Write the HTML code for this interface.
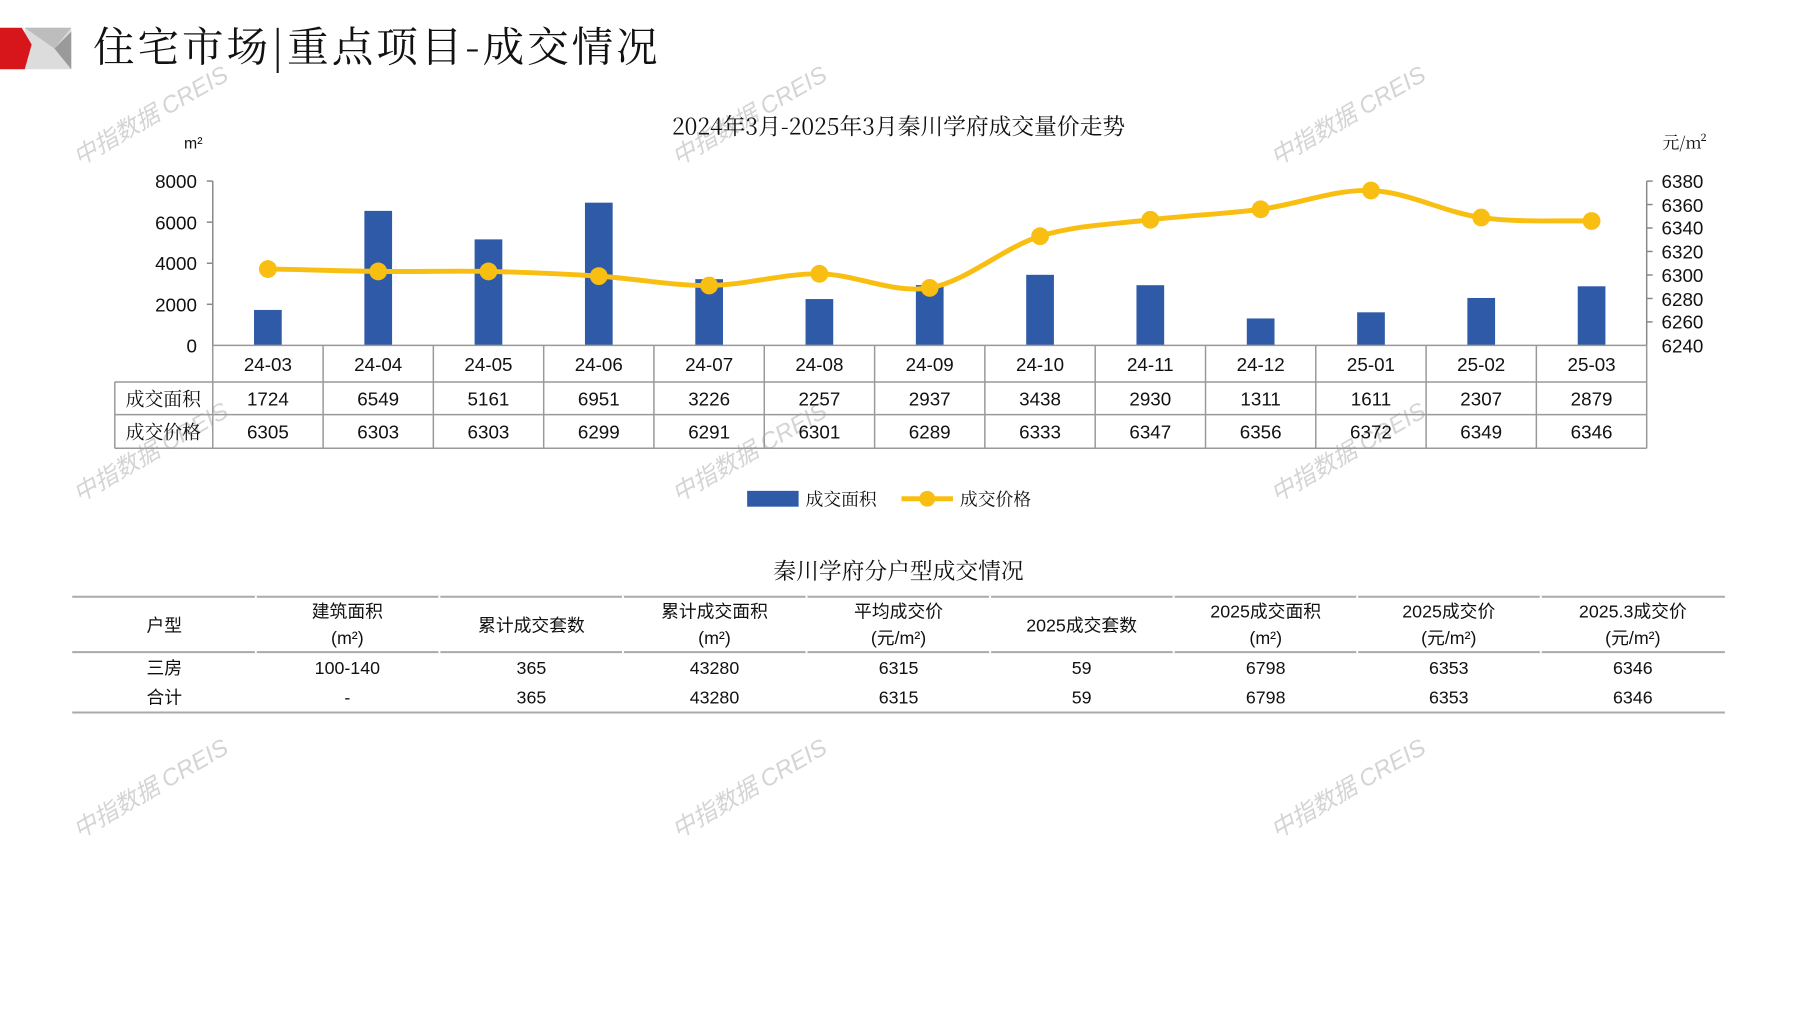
<!DOCTYPE html>
<html><head><meta charset="utf-8"><style>
html,body{margin:0;padding:0;background:#fff;}
svg{display:block;}
text{font-family:"Liberation Sans","Noto Sans CJK SC",sans-serif;fill:#111;}
.cj{font-family:"Noto Serif CJK SC","Liberation Serif",serif;}
.wm{font-family:"Liberation Sans","Noto Sans CJK SC",sans-serif;font-style:italic;fill:#d4d4d4;font-size:24px;}
</style></head><body>
<svg width="1797" height="1010" viewBox="0 0 1797 1010" xmlns="http://www.w3.org/2000/svg">
<g transform="scale(0.9896)">
<!-- logo -->
<polygon points="25,28 72,28 72,70 25,70" fill="#dcdcdc"/>
<polygon points="25,28 72,28 55,49" fill="#bdbdbd"/>
<polygon points="55,49 72,32 72,70" fill="#9a9a9a"/>
<polygon points="0,28 22,28 32,45 25,70 0,70" fill="#d7161c"/>
<text x="94" y="62" class="cj" font-size="42" letter-spacing="3">住宅市场|重点项目-成交情况</text>

<!-- watermarks -->
<g>
<text class="wm" transform="translate(80,168) rotate(-30)">中指数据 CREIS</text>
<text class="wm" transform="translate(685,168) rotate(-30)">中指数据 CREIS</text>
<text class="wm" transform="translate(1290,168) rotate(-30)">中指数据 CREIS</text>
<text class="wm" transform="translate(80,508) rotate(-30)">中指数据 CREIS</text>
<text class="wm" transform="translate(685,508) rotate(-30)">中指数据 CREIS</text>
<text class="wm" transform="translate(1290,508) rotate(-30)">中指数据 CREIS</text>
<text class="wm" transform="translate(80,848) rotate(-30)">中指数据 CREIS</text>
<text class="wm" transform="translate(685,848) rotate(-30)">中指数据 CREIS</text>
<text class="wm" transform="translate(1290,848) rotate(-30)">中指数据 CREIS</text>
</g>

<text x="908" y="136" class="cj" font-size="23" text-anchor="middle">2024年3月-2025年3月秦川学府成交量价走势</text>
<text x="186" y="150" font-size="16">m²</text>
<text x="1680" y="150" class="cj" font-size="17">元/m²</text>

<!-- left axis -->
<g font-size="19" text-anchor="end">
<text x="199" y="190">8000</text><text x="199" y="232">6000</text><text x="199" y="273">4000</text><text x="199" y="315">2000</text><text x="199" y="356">0</text>
</g>
<g stroke="#888" stroke-width="1.5">
<line x1="215" y1="183" x2="215" y2="349"/>
<line x1="209" y1="183" x2="215" y2="183"/><line x1="209" y1="224.5" x2="215" y2="224.5"/><line x1="209" y1="266" x2="215" y2="266"/><line x1="209" y1="307.5" x2="215" y2="307.5"/>
<line x1="1664" y1="183" x2="1664" y2="349"/>
<line x1="1664" y1="183" x2="1670" y2="183"/><line x1="1664" y1="206.7" x2="1670" y2="206.7"/><line x1="1664" y1="230.4" x2="1670" y2="230.4"/><line x1="1664" y1="254.1" x2="1670" y2="254.1"/><line x1="1664" y1="277.9" x2="1670" y2="277.9"/><line x1="1664" y1="301.6" x2="1670" y2="301.6"/><line x1="1664" y1="325.3" x2="1670" y2="325.3"/>
</g>
<g font-size="19">
<text x="1679" y="190">6380</text><text x="1679" y="214">6360</text><text x="1679" y="237">6340</text><text x="1679" y="261">6320</text><text x="1679" y="285">6300</text><text x="1679" y="309">6280</text><text x="1679" y="332">6260</text><text x="1679" y="356">6240</text>
</g>

<!-- bars -->
<g fill="#2e5aa7">
<rect x="256.7" y="313.2" width="28" height="35.8"/>
<rect x="368.2" y="213.1" width="28" height="135.9"/>
<rect x="479.6" y="241.9" width="28" height="107.1"/>
<rect x="591.1" y="204.8" width="28" height="144.2"/>
<rect x="702.6" y="282.1" width="28" height="66.9"/>
<rect x="814.0" y="302.2" width="28" height="46.8"/>
<rect x="925.5" y="288.1" width="28" height="60.9"/>
<rect x="1037.0" y="277.7" width="28" height="71.3"/>
<rect x="1148.4" y="288.2" width="28" height="60.8"/>
<rect x="1259.9" y="321.8" width="28" height="27.2"/>
<rect x="1371.4" y="315.6" width="28" height="33.4"/>
<rect x="1482.8" y="301.1" width="28" height="47.9"/>
<rect x="1594.3" y="289.3" width="28" height="59.7"/>
</g>

<!-- line -->
<path fill="none" stroke="#f8bf12" stroke-width="5" d="M270.7,271.9 C307.9,272.3 345.0,273.9 382.2,274.3 C419.4,274.7 456.4,273.5 493.6,274.3 C530.8,275.1 567.9,276.6 605.1,279.0 C642.3,281.4 679.4,288.9 716.6,288.5 C753.8,288.1 790.8,276.3 828.0,276.7 C865.2,277.1 902.4,297.2 939.5,290.9 C976.7,284.6 1013.8,250.2 1051.0,238.7 C1088.2,227.2 1125.3,226.6 1162.4,222.1 C1199.6,217.6 1236.8,216.4 1273.9,211.5 C1311.1,206.6 1348.2,191.1 1385.4,192.5 C1422.6,193.9 1459.7,214.7 1496.8,219.8 C1534.0,224.9 1571.2,222.7 1608.3,223.3"/>
<g fill="#f8bf12">
<circle cx="270.7" cy="271.9" r="9"/><circle cx="382.2" cy="274.3" r="9"/><circle cx="493.6" cy="274.3" r="9"/><circle cx="605.1" cy="279.0" r="9"/><circle cx="716.6" cy="288.5" r="9"/><circle cx="828.0" cy="276.7" r="9"/><circle cx="939.5" cy="290.9" r="9"/><circle cx="1051.0" cy="238.7" r="9"/><circle cx="1162.4" cy="222.1" r="9"/><circle cx="1273.9" cy="211.5" r="9"/><circle cx="1385.4" cy="192.5" r="9"/><circle cx="1496.8" cy="219.8" r="9"/><circle cx="1608.3" cy="223.3" r="9"/>
</g>

<!-- data table -->
<g stroke="#999" stroke-width="1.5" fill="none">
<line x1="215" y1="349" x2="1664" y2="349"/>
<line x1="116" y1="386" x2="1664" y2="386"/>
<line x1="116" y1="419" x2="1664" y2="419"/>
<line x1="116" y1="453" x2="1664" y2="453"/>
<line x1="116" y1="386" x2="116" y2="453"/>
<line x1="215" y1="349" x2="215" y2="453"/>
<line x1="326.5" y1="349" x2="326.5" y2="453"/><line x1="437.9" y1="349" x2="437.9" y2="453"/><line x1="549.4" y1="349" x2="549.4" y2="453"/><line x1="660.8" y1="349" x2="660.8" y2="453"/><line x1="772.3" y1="349" x2="772.3" y2="453"/><line x1="883.8" y1="349" x2="883.8" y2="453"/><line x1="995.2" y1="349" x2="995.2" y2="453"/><line x1="1106.7" y1="349" x2="1106.7" y2="453"/><line x1="1218.2" y1="349" x2="1218.2" y2="453"/><line x1="1329.6" y1="349" x2="1329.6" y2="453"/><line x1="1441.1" y1="349" x2="1441.1" y2="453"/><line x1="1552.5" y1="349" x2="1552.5" y2="453"/><line x1="1664" y1="349" x2="1664" y2="453"/>
</g>
<g font-size="19" text-anchor="middle">
<text x="270.7" y="375">24-03</text><text x="382.2" y="375">24-04</text><text x="493.6" y="375">24-05</text><text x="605.1" y="375">24-06</text><text x="716.6" y="375">24-07</text><text x="828.0" y="375">24-08</text><text x="939.5" y="375">24-09</text><text x="1051.0" y="375">24-10</text><text x="1162.4" y="375">24-11</text><text x="1273.9" y="375">24-12</text><text x="1385.4" y="375">25-01</text><text x="1496.8" y="375">25-02</text><text x="1608.3" y="375">25-03</text>
<text x="270.7" y="410">1724</text><text x="382.2" y="410">6549</text><text x="493.6" y="410">5161</text><text x="605.1" y="410">6951</text><text x="716.6" y="410">3226</text><text x="828.0" y="410">2257</text><text x="939.5" y="410">2937</text><text x="1051.0" y="410">3438</text><text x="1162.4" y="410">2930</text><text x="1273.9" y="410">1311</text><text x="1385.4" y="410">1611</text><text x="1496.8" y="410">2307</text><text x="1608.3" y="410">2879</text>
<text x="270.7" y="443">6305</text><text x="382.2" y="443">6303</text><text x="493.6" y="443">6303</text><text x="605.1" y="443">6299</text><text x="716.6" y="443">6291</text><text x="828.0" y="443">6301</text><text x="939.5" y="443">6289</text><text x="1051.0" y="443">6333</text><text x="1162.4" y="443">6347</text><text x="1273.9" y="443">6356</text><text x="1385.4" y="443">6372</text><text x="1496.8" y="443">6349</text><text x="1608.3" y="443">6346</text>
</g>
<text x="165" y="410" class="cj" font-size="19" text-anchor="middle">成交面积</text>
<text x="165" y="443" class="cj" font-size="19" text-anchor="middle">成交价格</text>

<!-- legend -->
<rect x="755" y="496" width="52" height="16" fill="#2e5aa7"/>
<text x="814" y="511" class="cj" font-size="18">成交面积</text>
<line x1="911" y1="504" x2="963" y2="504" stroke="#f8bf12" stroke-width="5"/>
<circle cx="937" cy="504" r="8" fill="#f8bf12"/>
<text x="970" y="511" class="cj" font-size="18">成交价格</text>

<!-- second table -->
<text x="908" y="585" class="cj" font-size="23" text-anchor="middle">秦川学府分户型成交情况</text>
<g stroke="#aaa" stroke-width="2">
<line x1="73" y1="603" x2="1743" y2="603"/>
<line x1="73" y1="659" x2="1743" y2="659"/>
<line x1="73" y1="720" x2="1743" y2="720"/>
</g>
<g stroke="#fff" stroke-width="2">
<line x1="258.5" y1="602" x2="258.5" y2="660"/><line x1="444" y1="602" x2="444" y2="660"/><line x1="629.5" y1="602" x2="629.5" y2="660"/><line x1="815" y1="602" x2="815" y2="660"/><line x1="1000.5" y1="602" x2="1000.5" y2="660"/><line x1="1186" y1="602" x2="1186" y2="660"/><line x1="1371.5" y1="602" x2="1371.5" y2="660"/><line x1="1557" y1="602" x2="1557" y2="660"/>
</g>
<g class="cj" font-size="18" text-anchor="middle">
<text x="166" y="638">户型</text>
<text x="351" y="624">建筑面积</text><text x="351" y="651">(m²)</text>
<text x="537" y="638">累计成交套数</text>
<text x="722" y="624">累计成交面积</text><text x="722" y="651">(m²)</text>
<text x="908" y="624">平均成交价</text><text x="908" y="651">(元/m²)</text>
<text x="1093" y="638">2025成交套数</text>
<text x="1279" y="624">2025成交面积</text><text x="1279" y="651">(m²)</text>
<text x="1464" y="624">2025成交价</text><text x="1464" y="651">(元/m²)</text>
<text x="1650" y="624">2025.3成交价</text><text x="1650" y="651">(元/m²)</text>
<text x="166" y="681">三房</text><text x="166" y="711">合计</text>
</g>
<g font-size="18" text-anchor="middle">
<text x="351" y="681">100-140</text><text x="537" y="681">365</text><text x="722" y="681">43280</text><text x="908" y="681">6315</text><text x="1093" y="681">59</text><text x="1279" y="681">6798</text><text x="1464" y="681">6353</text><text x="1650" y="681">6346</text>
<text x="351" y="711">-</text><text x="537" y="711">365</text><text x="722" y="711">43280</text><text x="908" y="711">6315</text><text x="1093" y="711">59</text><text x="1279" y="711">6798</text><text x="1464" y="711">6353</text><text x="1650" y="711">6346</text>
</g>
</g>
</svg>
</body></html>
